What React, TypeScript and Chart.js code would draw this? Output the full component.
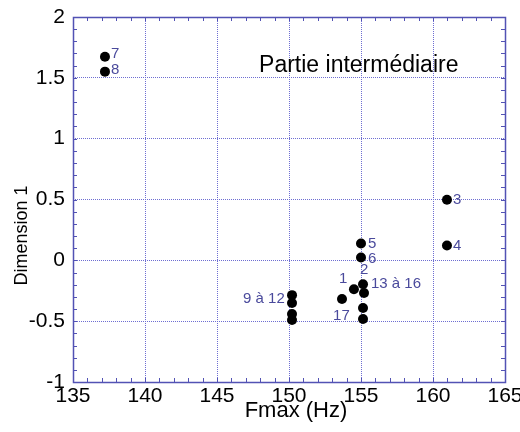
import React, { useEffect, useRef } from "react";
import { Chart, registerables } from "chart.js";

Chart.register(...registerables);

// ---- data ----
const fmax = [137.22, 137.22, 160.97, 160.97, 155.0, 155.0, 154.51, 155.14, 155.21, 153.68, 155.14, 155.14, 150.21, 150.21, 150.21, 150.21];
const dim1 = [1.673, 1.551, 0.498, 0.122, 0.139, 0.024, -0.237, -0.196, -0.269, -0.318, -0.392, -0.482, -0.286, -0.351, -0.441, -0.49];

const labelTexts = ["7", "8", "3", "4", "5", "6", "2", "13 à 16", "1", "17", "9 à 12"];
const labelFmax = [137.64, 137.64, 161.39, 161.39, 155.49, 155.49, 154.93, 155.69, 153.47, 153.06, 146.81];
const labelDim = [1.698, 1.567, 0.498, 0.122, 0.139, 0.016, -0.082, -0.196, -0.155, -0.457, -0.318];

const noteText = "Partie intermédiaire";
const noteFmax = 147.92;
const noteDim = 1.545;

const xMin = 135, xMax = 165, xStep = 5, xMinor = 1;
const yMin = -1, yMax = 2, yStep = 0.5, yMinor = 0.1;
const xTitle = "Fmax (Hz)";
const yTitle = "Dimension 1";

const AXIS = "#5252b4";
const GRID = "#6e6ed2";
const LABEL = "#4a4a9c";
const FONT = "'Liberation Sans', Arial, sans-serif";

const decor = {
  id: "decor",
  afterDraw(chart: any) {
    const { ctx, chartArea: a, scales } = chart;
    const x = scales.x, y = scales.y;
    ctx.save();
    ctx.strokeStyle = AXIS;
    ctx.lineWidth = 1;
    const tl = 4;
    ctx.beginPath();
    for (let i = 0; xMin + i * xMinor <= xMax + 1e-9; i++) {
      const v = xMin + i * xMinor;
      const px = Math.round(x.getPixelForValue(v)) + 0.5;
      ctx.moveTo(px, a.bottom); ctx.lineTo(px, a.bottom - tl);
      ctx.moveTo(px, a.top); ctx.lineTo(px, a.top + tl);
    }
    for (let i = 0; yMin + i * yMinor <= yMax + 1e-9; i++) {
      const v = yMin + i * yMinor;
      const py = Math.round(y.getPixelForValue(v)) + 0.5;
      ctx.moveTo(a.left, py); ctx.lineTo(a.left + tl, py);
      ctx.moveTo(a.right, py); ctx.lineTo(a.right - tl, py);
    }
    ctx.stroke();
    ctx.lineWidth = 1.5;
    ctx.strokeRect(Math.round(a.left) + 0.5, Math.round(a.top) + 0.5, Math.round(a.right - a.left), Math.round(a.bottom - a.top));

    // point labels
    ctx.fillStyle = LABEL;
    ctx.font = `15px ${FONT}`;
    ctx.textAlign = "left";
    ctx.textBaseline = "middle";
    labelTexts.forEach((t, i) => {
      ctx.fillText(t, x.getPixelForValue(labelFmax[i]), y.getPixelForValue(labelDim[i]));
    });

    // annotation
    ctx.fillStyle = "#000";
    ctx.font = `23px ${FONT}`;
    ctx.textBaseline = "alphabetic";
    ctx.fillText(noteText, x.getPixelForValue(noteFmax), y.getPixelForValue(noteDim));

    // axis titles
    ctx.textAlign = "center";
    ctx.textBaseline = "middle";
    ctx.font = `22px ${FONT}`;
    ctx.fillText(xTitle, (a.left + a.right) / 2 + 7, a.bottom + 29);
    ctx.save();
    ctx.translate(22, (a.top + a.bottom) / 2 + 36);
    ctx.rotate(-Math.PI / 2);
    ctx.font = `18px ${FONT}`;
    ctx.fillText(yTitle, 0, 0);
    ctx.restore();
    ctx.restore();
  },
};

export default function App() {
  const ref = useRef<HTMLCanvasElement>(null);
  useEffect(() => {
    document.body.style.margin = "0";
    const canvas = ref.current!;
    const chart = new Chart(canvas, {
      type: "scatter",
      data: {
        datasets: [
          {
            data: fmax.map((v, i) => ({ x: v, y: dim1[i] })),
            backgroundColor: "#000",
            borderColor: "#000",
            borderWidth: 0,
            pointRadius: 5,
          },
        ],
      },
      options: {
        responsive: false,
        animation: false,
        layout: { padding: { top: 17, right: 15, left: 0, bottom: 0 } },
        plugins: { legend: { display: false }, tooltip: { enabled: false } },
        scales: {
          x: {
            type: "linear",
            min: xMin,
            max: xMax,
            ticks: { stepSize: xStep, color: "#000", font: { family: FONT, size: 21, lineHeight: 1.2 }, padding: 2, maxRotation: 0 },
            grid: { color: GRID, lineWidth: 1, drawTicks: false },
            border: { display: false, dash: [1, 1] },
            title: { display: false },
            afterFit(s: any) {
              s.height = 50;
              s.paddingLeft = 0;
              s.paddingRight = 0;
            },
          },
          y: {
            type: "linear",
            min: yMin,
            max: yMax,
            ticks: {
              stepSize: yStep,
              color: "#000",
              font: { family: FONT, size: 21, lineHeight: 1.2 },
              padding: 8,
              callback: (v: any) => String(Number(v)),
            },
            grid: { color: GRID, lineWidth: 1, drawTicks: false },
            border: { display: false, dash: [1, 1] },
            title: { display: false },
            afterFit(s: any) {
              s.width = 73;
              s.paddingTop = 0;
              s.paddingBottom = 0;
            },
          },
        },
      },
      plugins: [decor],
    });
    return () => chart.destroy();
  }, []);
  return (
    <div style={{ width: 520, height: 432 }}>
      <canvas ref={ref} width={520} height={432} style={{ display: "block" }} />
    </div>
  );
}
